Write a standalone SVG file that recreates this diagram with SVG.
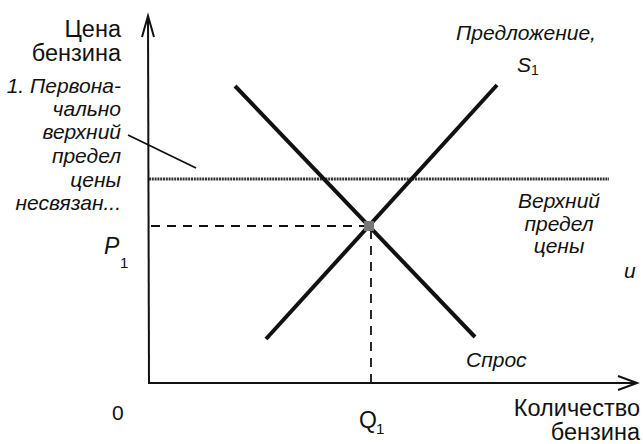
<svg xmlns="http://www.w3.org/2000/svg" width="643" height="444" viewBox="0 0 643 444">
<style>
.t{font-family:"Liberation Sans",Arial,sans-serif;fill:#111}
.n{font-size:23.5px}
.i{font-size:21px;font-style:italic}
.ax{stroke:#111;stroke-width:2;fill:none}
.curve{stroke:#111;stroke-width:4;stroke-linecap:butt;fill:none}
.dash{stroke:#111;stroke-width:1.8;stroke-dasharray:9,7;fill:none}
</style>
<rect width="643" height="444" fill="#fff"/>
<g id="connectors">
<line class="ax" x1="149" y1="384" x2="148" y2="17"/>
<path class="ax" d="M142,37 L148,16 L154,37"/>
<line class="ax" x1="148" y1="383" x2="636" y2="383"/>
<path class="ax" d="M618,376 L637,383 L618,390"/>
<line x1="149" y1="179" x2="609" y2="179" stroke="#333" stroke-width="3" stroke-dasharray="2,0.8"/>
<line class="dash" x1="151" y1="226" x2="366" y2="226"/>
<line class="dash" x1="371" y1="230" x2="371" y2="382"/>
<line class="curve" x1="266" y1="339" x2="497" y2="85"/>
<line class="curve" x1="235" y1="86" x2="475" y2="337"/>
<line x1="128" y1="135" x2="196" y2="168" stroke="#111" stroke-width="1.8"/>
<rect x="364" y="221" width="10" height="10" fill="#777"/>
</g>
<g id="y-label"><text class="t n" text-anchor="end"><tspan x="121" y="37">Цена</tspan><tspan x="121" y="61">бензина</tspan></text></g>
<g id="note"><text class="t i" text-anchor="end"><tspan x="121" y="93">1. Первона-</tspan><tspan x="121" y="116">чально</tspan><tspan x="121" y="139">верхний</tspan><tspan x="121" y="163">предел</tspan><tspan x="121" y="187">цены</tspan><tspan x="121" y="210">несвязан...</tspan></text></g>
<g id="supply-label"><text class="t i" text-anchor="middle"><tspan x="526" y="40">Предложение,</tspan></text><text class="t i" x="517" y="72">S<tspan font-size="14" font-style="normal" dy="3">1</tspan></text></g>
<g id="ceiling-label"><text class="t i" text-anchor="middle"><tspan x="559" y="208">Верхний</tspan><tspan x="559" y="231">предел</tspan><tspan x="559" y="253">цены</tspan></text></g>
<g id="and-label"><text class="t i" x="624" y="278">и</text></g>
<g id="demand-label"><text class="t i" x="466" y="367">Спрос</text></g>
<g id="p1"><text class="t" x="104" y="254" font-size="23" font-style="italic">P</text><text class="t" x="120" y="268" font-size="15">1</text></g>
<g id="origin"><text class="t" x="112" y="420" font-size="21">0</text></g>
<g id="q1"><text class="t" x="359" y="428" font-size="23">Q</text><text class="t" x="376" y="434" font-size="15">1</text></g>
<g id="x-label"><text class="t n" text-anchor="end"><tspan x="640" y="416">Количество</tspan><tspan x="640" y="440">бензина</tspan></text></g>
</svg>
